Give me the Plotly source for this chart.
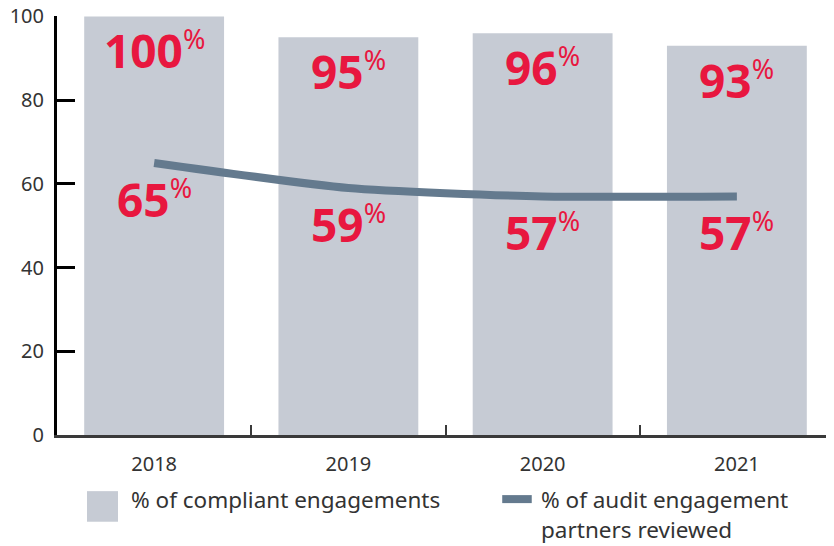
import plotly.graph_objects as go

# data
years = ["2018", "2019", "2020", "2021"]
compliant = [100, 95, 96, 93]
partners_reviewed = [65, 59, 57, 57]
y_ticks = [0, 20, 40, 60, 80, 100]

bar_grey = "#c6cbd4"
line_blue = "#647a8e"
red = "#e8173f"
text_grey = "#333333"
font_family = "Noto Sans"

fig = go.Figure()

fig.add_trace(go.Bar(
    x=years, y=compliant,
    marker=dict(color=bar_grey, line=dict(width=0)),
    width=0.72,
    name="% of compliant engagements",
))

fig.add_trace(go.Scatter(
    x=years, y=partners_reviewed,
    mode="lines",
    line=dict(color=line_blue, width=8, shape="spline", smoothing=0.6),
    name="% of audit engagement partners reviewed",
))


def pct_label(v):
    return f"<b>{v}</b><sup><span style='font-size:27px'>%</span></sup>"


# red value labels under the bar tops and under the line
# (category index used for x: numeric-looking names confuse annotations)
for i, (c, p) in enumerate(zip(compliant, partners_reviewed)):
    for val, shift in ((c, -34), (p, -36)):
        fig.add_annotation(
            x=i, y=val, xref="x", yref="y",
            text=pct_label(val), showarrow=False,
            yanchor="middle", yshift=shift,
            font=dict(family=font_family, size=46, color=red),
        )

# hand drawn legend below the axis (paper coords)
fig.add_shape(type="rect", xref="paper", yref="paper",
              x0=0.0386, x1=0.0785, y0=-0.207, y1=-0.134,
              fillcolor=bar_grey, line=dict(width=0))
fig.add_annotation(xref="paper", yref="paper", x=0.093, y=-0.153,
                   xanchor="left", yanchor="middle", showarrow=False,
                   text="% of compliant engagements",
                   font=dict(family=font_family, size=22.5, color=text_grey))

fig.add_shape(type="line", xref="paper", yref="paper",
              x0=0.573, x1=0.611, y0=-0.153, y1=-0.153,
              line=dict(color=line_blue, width=8))
fig.add_annotation(xref="paper", yref="paper", x=0.620, y=-0.153,
                   xanchor="left", yanchor="middle", showarrow=False,
                   text="% of audit engagement",
                   font=dict(family=font_family, size=22.5, color=text_grey))
fig.add_annotation(xref="paper", yref="paper", x=0.620, y=-0.226,
                   xanchor="left", yanchor="middle", showarrow=False,
                   text="partners reviewed",
                   font=dict(family=font_family, size=22.5, color=text_grey))

# page body adds an 8px offset, so the figure is 8px smaller than the window
fig.update_layout(
    width=826, height=538,
    margin=dict(l=49, r=0, t=8, b=111),
    plot_bgcolor="white", paper_bgcolor="white",
    showlegend=False,
    font=dict(family=font_family, size=20, color=text_grey),
)

fig.update_xaxes(
    type="category", range=[-0.5, 3.5], automargin=False,
    showgrid=False, showline=True, linecolor="#3a3a3a", linewidth=3,
    ticks="inside", tickson="boundaries", ticklen=10, tickwidth=2,
    tickcolor="#3a3a3a", ticklabelstandoff=9,
)
fig.update_yaxes(
    range=[0, 100.1], tickvals=y_ticks, automargin=False,
    showgrid=False, zeroline=False,
    showline=True, linecolor="black", linewidth=3,
    ticks="inside", ticklen=18, tickwidth=3, tickcolor="black",
    ticklabelstandoff=6, ticklabeloverflow="allow",
)

fig.write_html("out.html")
